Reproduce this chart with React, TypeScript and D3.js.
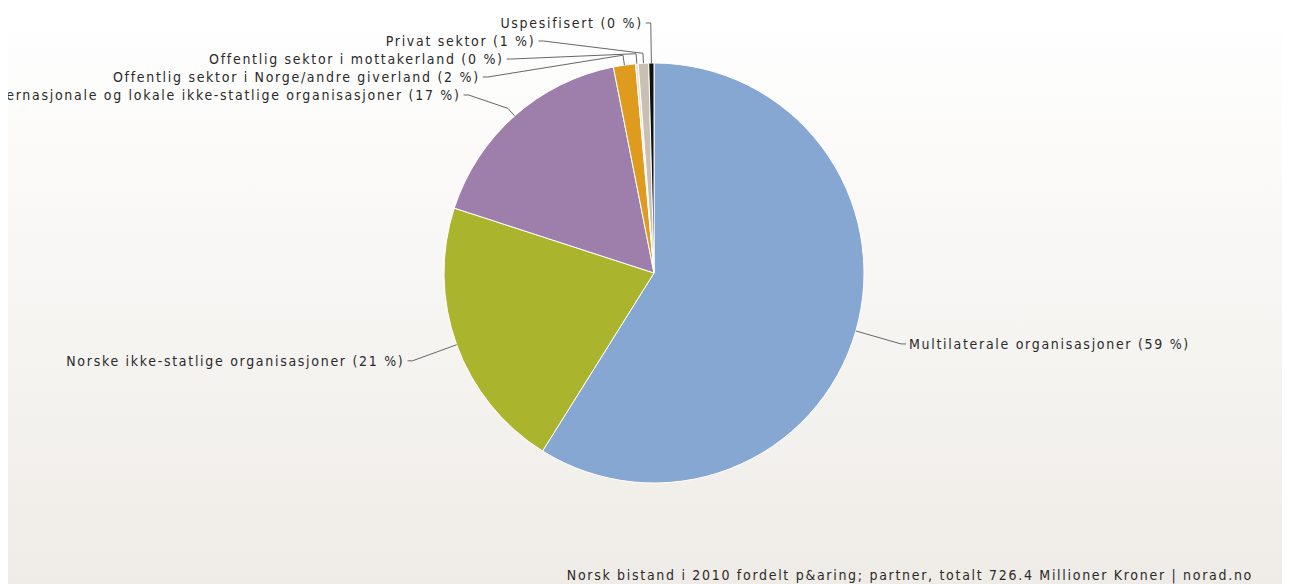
import React from 'react';
import * as d3 from 'd3';

// ---- data ----
const categories = [
  'Multilaterale organisasjoner',
  'Norske ikke-statlige organisasjoner',
  'Internasjonale og lokale ikke-statlige organisasjoner',
  'Offentlig sektor i Norge/andre giverland',
  'Offentlig sektor i mottakerland',
  'Privat sektor',
  'Uspesifisert',
];
const shares = [58.9, 21.1, 16.9, 1.7, 0.2, 0.8, 0.4];
const sliceColors = ['#87a7d3', '#aab52d', '#9e7eaa', '#de9b1e', '#e4e0d8', '#c8c0b2', '#111111'];
const caption = 'Norsk bistand i 2010 fordelt p&aring; partner, totalt 726.4 Millioner Kroner | norad.no';

// ---- layout ----
const W = 1282;
const H = 576;
const cx = 646;
const cy = 265;
const R = 210;
const labelR = 257;
const breakR = R + 10;
const slot = 18;
const topMin = 15;
const FONT = '"DejaVu Sans Condensed", "Liberation Sans Narrow", "DejaVu Sans", sans-serif';
const LS = 1.7;

type Lab = { i: number; mid: number; left: boolean; ny: number; y: number; x: number };

export default function App() {
  const pie = d3.pie<number>().sort(null).value((d) => d).startAngle(0).endAngle(2 * Math.PI);
  const arcs = pie(shares);
  const arcGen = d3.arc<d3.PieArcDatum<number>>().innerRadius(0).outerRadius(R);
  const total = d3.sum(shares);

  const pt = (a: number, rad: number): [number, number] => [cx + rad * Math.sin(a), cy - rad * Math.cos(a)];

  const labs: Lab[] = arcs.map((a, i) => {
    const mid = (a.startAngle + a.endAngle) / 2;
    const ny = cy - labelR * Math.cos(mid);
    return { i, mid, left: Math.sin(mid) < 0, ny, y: ny, x: 0 };
  });

  const getX = (y: number, left: boolean) => {
    const dy = Math.max(-labelR, Math.min(labelR, y - cy));
    const dx = Math.sqrt(labelR * labelR - dy * dy);
    return cx + (left ? -dx : dx);
  };

  [true, false].forEach((side) => {
    const group = labs.filter((l) => l.left === side).sort((a, b) => a.ny - b.ny);
    let prev = -Infinity;
    group.forEach((l, k) => {
      l.y = Math.max(l.ny, prev + slot, topMin);
      prev = l.y;
      const useNat = k === 0 || k === group.length - 1;
      l.x = getX(useNat ? l.ny : l.y, side);
    });
  });

  return (
    <svg width={W} height={H} style={{ display: 'block' }} fontFamily={FONT}>
      <defs>
        <linearGradient id="bg" x1="0" y1="0" x2="0" y2="1">
          <stop offset="0" stopColor="#ffffff" />
          <stop offset="1" stopColor="#efece7" />
        </linearGradient>
      </defs>
      <rect x={0} y={0} width={W} height={H} fill="url(#bg)" />
      <g transform={`translate(${cx},${cy})`}>
        {arcs.map((a, i) => (
          <path key={i} d={arcGen(a) || ''} fill={sliceColors[i]} stroke="#ffffff" strokeWidth={1} strokeLinejoin="round" />
        ))}
      </g>
      <g>
        {labs.map((l) => {
          const b2 = pt(l.mid, breakR);
          const base = pt(l.mid, R);
          const s = l.left ? -1 : 1;
          const d = `M${l.x + s * 5},${l.y}L${l.x},${l.y}L${b2[0]},${b2[1]}L${base[0]},${base[1]}`;
          const pct = Math.round((shares[l.i] / total) * 100);
          return (
            <g key={l.i}>
              <path d={d} fill="none" stroke="#666666" strokeWidth={1} />
              <text
                x={l.x + s * 8}
                y={l.y}
                dy="0.35em"
                textAnchor={l.left ? 'end' : 'start'}
                fontSize={14}
                letterSpacing={LS}
                fill="#2a2a2a"
              >
                {`${categories[l.i]} (${pct} %)`}
              </text>
            </g>
          );
        })}
      </g>
      <text x={1245} y={572} textAnchor="end" fontSize={14} letterSpacing={LS} fill="#2a2a2a">
        {caption}
      </text>
    </svg>
  );
}
